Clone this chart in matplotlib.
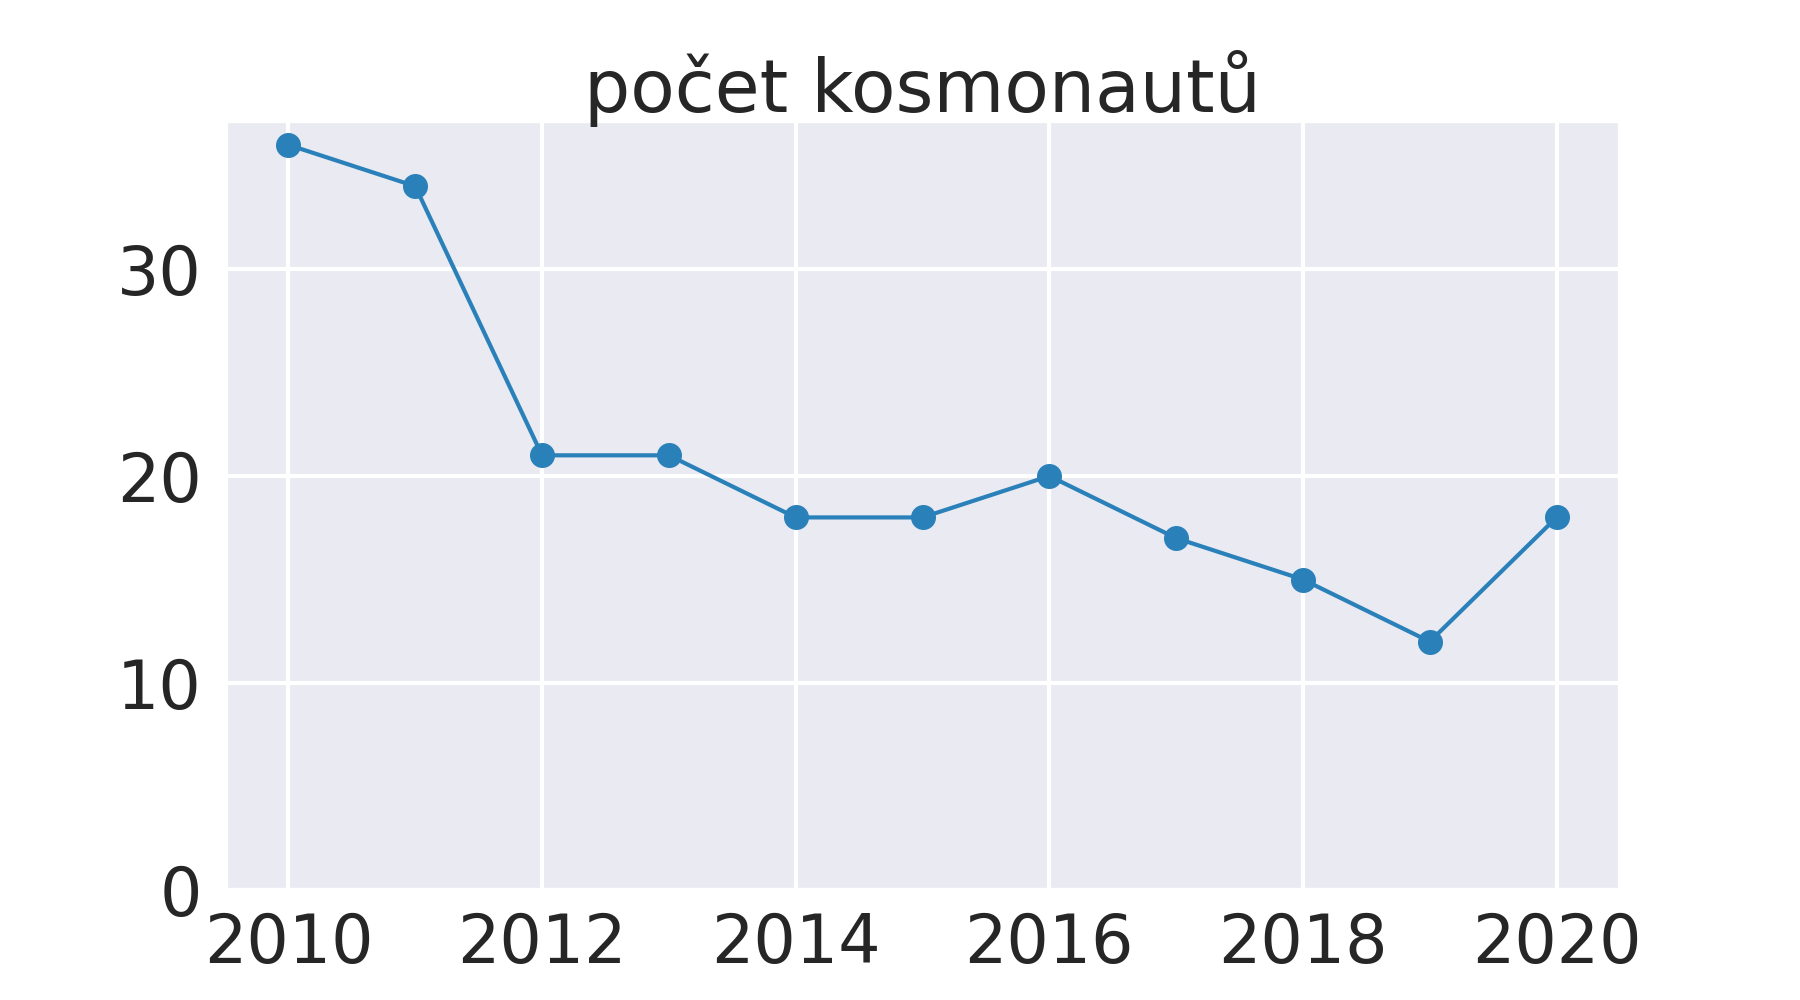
import matplotlib
matplotlib.use("Agg")
import matplotlib.pyplot as plt
import seaborn as sns

years = [2010, 2011, 2012, 2013, 2014, 2015, 2016, 2017, 2018, 2019, 2020]
counts = [36, 34, 21, 21, 18, 18, 20, 17, 15, 12, 18]
title = "počet kosmonautů"

sns.set_theme(style="darkgrid")
plt.rcParams['font.family'] = ['DejaVu Sans']

fig, ax = plt.subplots(figsize=(6, 10/3), dpi=300)
ax.plot(years, counts, marker="o", color="#2a81ba", linewidth=1.0, markersize=5)
ax.set_ylim(bottom=0)
ax.set_xticks([2010, 2012, 2014, 2016, 2018, 2020])
ax.set_yticks([0, 10, 20, 30])
ax.tick_params(axis="x", labelsize=16, pad=-1)
ax.tick_params(axis="y", labelsize=16, pad=-0.4)
ax.set_title(title, fontsize=17.5, pad=2)
fig.savefig("out.png", dpi=300)
